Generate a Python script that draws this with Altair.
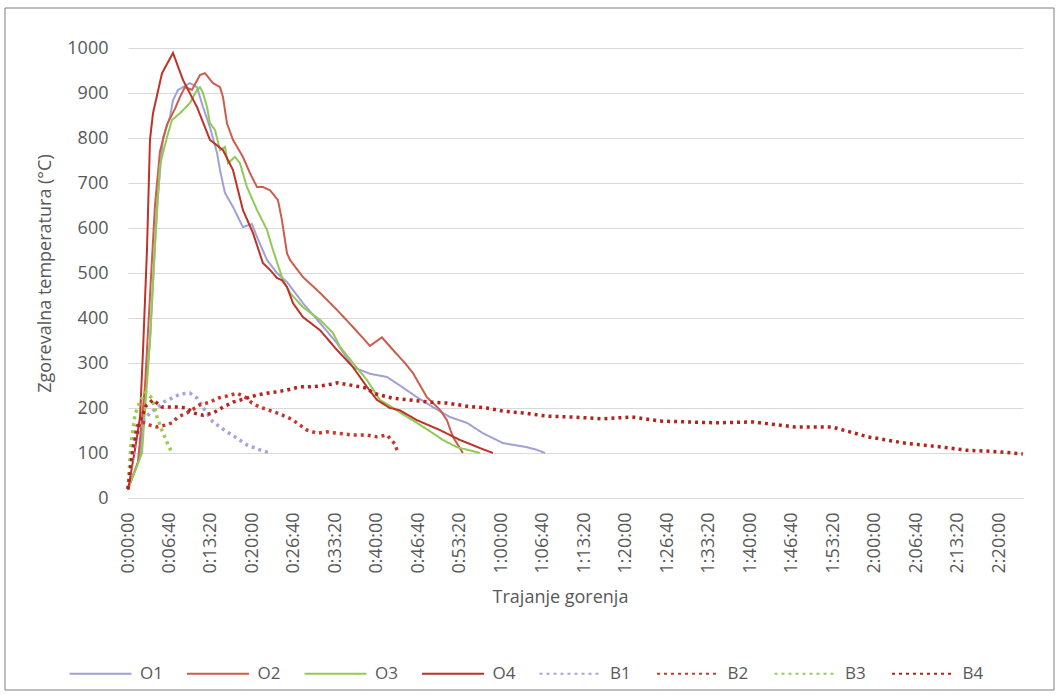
import altair as alt
import pandas as pd

SERIES = ["O1", "O2", "O3", "O4", "B1", "B2", "B3", "B4"]
COLORS = ["#A09FD6", "#CD5C4B", "#8FCB54", "#BE3227",
          "#A6A4D9", "#C8372D", "#9ACD4F", "#B5231D"]

# time in seconds, temperature in °C
o1_t = [0, 116, 212, 280, 337, 405, 434, 482, 530, 598, 665, 723, 790, 858, 887, 935, 1012, 1108, 1195, 1244,
        1340, 1436, 1533, 1687, 1851, 2015, 2169, 2333, 2497, 2622, 2786, 2940, 3104, 3268, 3422, 3615, 3846, 3943, 4020]
o1_v = [20, 90, 350, 650, 800, 847, 884, 907, 913, 922, 913, 869, 824, 767, 729, 678, 647, 602, 609, 580,
        529, 500, 480, 433, 389, 344, 291, 276, 269, 250, 224, 202, 180, 167, 144, 122, 113, 107, 100]

o2_t = [0, 96, 164, 212, 260, 308, 376, 453, 501, 549, 617, 694, 742, 819, 887, 916, 954, 1012, 1108, 1176,
        1244, 1301, 1369, 1446, 1484, 1533, 1562, 1687, 1851, 2015, 2169, 2333, 2448, 2555, 2670, 2747, 2882, 3008, 3075, 3133, 3229]
o2_v = [20, 80, 250, 450, 650, 770, 830, 865, 891, 913, 907, 940, 944, 922, 913, 891, 833, 796, 758, 722,
        691, 691, 684, 662, 618, 544, 529, 491, 456, 418, 380, 338, 357, 329, 300, 278, 224, 196, 173, 136, 100]

o3_t = [0, 135, 212, 260, 308, 376, 424, 501, 598, 665, 694, 723, 762, 790, 839, 887, 935, 964, 1031, 1080,
        1147, 1244, 1340, 1398, 1494, 1562, 1687, 1851, 1976, 2044, 2169, 2304, 2429, 2526, 2622, 2786, 2940, 3036, 3172, 3393]
o3_v = [20, 100, 350, 560, 740, 802, 840, 855, 878, 907, 913, 900, 869, 833, 818, 773, 780, 744, 758, 744,
        691, 640, 596, 551, 484, 456, 424, 396, 367, 336, 300, 262, 218, 205, 190, 167, 144, 129, 113, 100]

o4_t = [0, 67, 116, 145, 183, 212, 241, 328, 434, 530, 665, 790, 916, 1012, 1108, 1205, 1301, 1369, 1436, 1484,
        1533, 1591, 1687, 1851, 2015, 2169, 2304, 2400, 2526, 2622, 2786, 3008, 3200, 3393, 3519]
o4_v = [18, 107, 180, 329, 551, 796, 855, 944, 989, 929, 869, 796, 773, 729, 640, 589, 522, 507, 489, 484,
        469, 433, 402, 373, 329, 291, 247, 218, 200, 195, 173, 151, 129, 111, 100]

b1_t = [0, 67, 135, 212, 289, 357, 424, 501, 598, 665, 742, 819, 954, 1051, 1147, 1272, 1369]
b1_v = [20, 120, 170, 189, 202, 215, 222, 231, 233, 222, 195, 169, 147, 133, 118, 107, 100]

b2_t = [0, 39, 87, 145, 212, 280, 357, 424, 482, 569, 694, 790, 868, 964, 1051, 1147, 1195, 1272, 1350, 1436,
        1533, 1591, 1658, 1726, 1822, 1918, 2015, 2169, 2304, 2400, 2497, 2574, 2603]
b2_v = [20, 120, 160, 168, 162, 158, 162, 167, 180, 189, 207, 213, 222, 227, 233, 222, 211, 202, 196, 189,
        180, 173, 162, 151, 144, 147, 144, 140, 140, 136, 140, 120, 100]

b3_t = [0, 29, 67, 116, 174, 231, 280, 328, 376, 424]
b3_v = [20, 120, 185, 215, 235, 222, 180, 150, 124, 100]

b4_t = [0, 48, 116, 174, 241, 328, 405, 482, 569, 627, 723, 819, 916, 1012, 1147, 1244, 1340, 1436, 1533, 1658,
        1783, 1918, 2015, 2169, 2304, 2362, 2545, 2718, 2911, 3075, 3268, 3461, 3615, 3808, 4039, 4290, 4579, 4858,
        5128, 5398, 5678, 6025, 6430, 6786, 7133, 7490, 7856, 8088, 8310, 8531, 8628]
b4_v = [20, 110, 170, 205, 218, 202, 202, 202, 200, 189, 184, 189, 202, 213, 222, 229, 233, 236, 240, 247,
        247, 251, 256, 250, 244, 233, 222, 218, 213, 211, 204, 200, 193, 189, 182, 180, 176, 180,
        171, 169, 167, 169, 158, 158, 136, 122, 113, 106, 104, 100, 98]

X_TICKS = list(range(0, 8401, 400))
Y_TICKS = list(range(0, 1001, 100))
X_MAX = 8630

series_data = [("O1", o1_t, o1_v), ("O2", o2_t, o2_v), ("O3", o3_t, o3_v), ("O4", o4_t, o4_v),
               ("B1", b1_t, b1_v), ("B2", b2_t, b2_v), ("B3", b3_t, b3_v), ("B4", b4_t, b4_v)]
rows = []
for name, ts, vs in series_data:
    for t, v in zip(ts, vs):
        rows.append({"series": name, "t": t, "temp": v, "kind": name[0]})
df = pd.DataFrame(rows)

FONT = "Open Sans"
GRAY = "#595959"

label_expr = ("floor(datum.value/3600) + ':' + pad(toString(floor((datum.value%3600)/60)), 2, '0', 'left')"
              " + ':' + pad(toString(datum.value%60), 2, '0', 'left')")

x_enc = alt.X("t:Q", scale=alt.Scale(domain=[0, X_MAX], nice=False, zero=False),
              axis=alt.Axis(values=X_TICKS, labelExpr=label_expr, labelAngle=270, title="Trajanje gorenja",
                            grid=False, ticks=False, domainColor="#D9D9D9", labelPadding=14,
                            titlePadding=16, titleX=432))
y_enc = alt.Y("temp:Q", scale=alt.Scale(domain=[0, 1000], nice=False),
              axis=alt.Axis(values=Y_TICKS, format="d", title="Zgorevalna temperatura (°C)", domain=False,
                            ticks=False, gridColor="#D9D9D9", labelPadding=20, titlePadding=12))


def make_legend():
    return alt.Legend(title=None, orient="none", legendX=-60, legendY=593,
                      direction="horizontal", symbolType="stroke", symbolSize=3844,
                      symbolStrokeWidth=2.2, labelOffset=7, columnPadding=19.5, gridAlign="all",
                      padding=0, labelFontSize=17, labelColor=GRAY, labelFont=FONT, labelLimit=40)


color_enc = alt.Color("series:N", scale=alt.Scale(domain=SERIES, range=COLORS), legend=make_legend())
dash_enc = alt.StrokeDash("series:N",
                          scale=alt.Scale(domain=SERIES, range=[[1, 0]] * 4 + [[3, 4]] * 4),
                          legend=make_legend())

base = alt.Chart(df).encode(x=x_enc, y=y_enc, color=color_enc, strokeDash=dash_enc,
                            detail="series:N")

o_lines = base.transform_filter(alt.datum.kind == "O").mark_line(strokeWidth=2)
b_lines = base.transform_filter(alt.datum.kind == "B").mark_line(strokeWidth=3.5, strokeCap="butt")

frame = alt.Chart(pd.DataFrame({"k": [0]})).mark_rect(fillOpacity=0, stroke="#7F7F7F", strokeWidth=1).encode(
    x=alt.value(-123), x2=alt.value(926), y=alt.value(-40), y2=alt.value(642))

chart = alt.layer(o_lines, b_lines, frame).properties(
    width=895, height=450,
    autosize=alt.AutoSizeParams(type="none"),
    padding={"left": 128, "top": 48, "right": 35, "bottom": 197},
    background="white",
).configure_view(stroke=None).configure_axis(
    labelFont=FONT, titleFont=FONT, labelFontSize=18, titleFontSize=18,
    labelColor=GRAY, titleColor=GRAY, titleFontWeight="normal",
)

chart.save("out.html", embed_options={"renderer": "svg", "actions": False})
